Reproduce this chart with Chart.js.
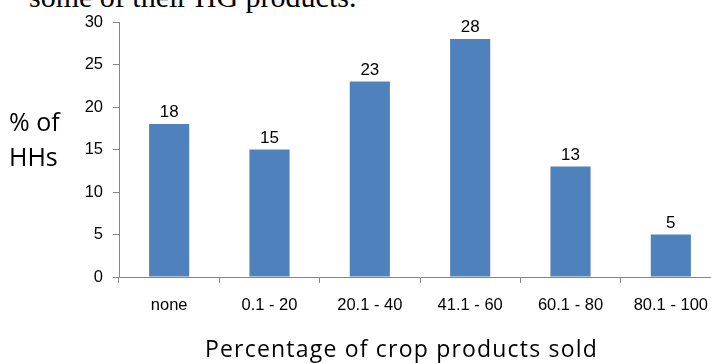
<!DOCTYPE html>
<html>
<head>
<meta charset="utf-8">
<script src="https://cdn.jsdelivr.net/npm/chart.js@4"></script>
<style>
  html, body { margin: 0; padding: 0; background: #fff; overflow: hidden; width: 711px; height: 363px; }
  #wrap { position: relative; width: 711px; height: 363px; overflow: hidden; }
  canvas { position: absolute; left: 0; top: 0; }
  .lead { position: absolute; left: 29px; top: -18px; font: 30px/30px "Liberation Serif", "Times New Roman", serif; color: #000; white-space: nowrap; }
  .ytitle { position: absolute; left: 9px; top: 104px; font: 25px/35px "Open Sans", sans-serif; color: #000; }
  .xtitle { position: absolute; left: 0; width: 803px; top: 333px; text-align: center; font: 23px/30px "Open Sans", sans-serif; letter-spacing: 1.2px; color: #000; white-space: nowrap; }
</style>
</head>
<body>
<div id="wrap">
  <div class="lead">some of their HG products.</div>
  <canvas id="c" width="740" height="363"></canvas>
  <div class="ytitle">% of<br>HHs</div>
  <div class="xtitle">Percentage of crop products sold</div>
</div>
<script>
// Share of households by proportion of crop output sold
const categories = ["none", "0.1 - 20", "20.1 - 40", "41.1 - 60", "60.1 - 80", "80.1 - 100"];
const householdShare = [18, 15, 23, 28, 13, 5];
const yTicks = [0, 5, 10, 15, 20, 25, 30];

const AXIS_GREY = "#868686";
const BAR_BLUE = "#4F81BD";
const TICK_FONT = { family: "'Liberation Sans', Arial, sans-serif", size: 16.5 };

// Writes each bar's value just above it
const valueLabels = {
  id: "valueLabels",
  afterDatasetsDraw(chart) {
    const ctx = chart.ctx;
    const meta = chart.getDatasetMeta(0);
    const data = chart.data.datasets[0].data;
    ctx.save();
    ctx.font = "17px 'Liberation Sans', Arial, sans-serif";
    ctx.fillStyle = "#000";
    ctx.textAlign = "center";
    ctx.textBaseline = "alphabetic";
    meta.data.forEach((bar, i) => {
      ctx.fillText(String(data[i]), bar.x, bar.y - 7);
    });
    ctx.restore();
  }
};

new Chart(document.getElementById("c"), {
  type: "bar",
  data: {
    labels: categories,
    datasets: [{
      data: householdShare,
      backgroundColor: BAR_BLUE,
      borderWidth: 0,
      categoryPercentage: 1.0,
      barPercentage: 0.4
    }]
  },
  options: {
    responsive: false,
    animation: false,
    events: [],
    layout: { padding: { top: 22, right: 19, bottom: 0, left: 0 } },
    plugins: {
      legend: { display: false },
      title: { display: false },
      tooltip: { enabled: false }
    },
    scales: {
      x: {
        grid: { display: true, drawOnChartArea: false, drawTicks: true, tickLength: 6, color: AXIS_GREY, offset: true },
        border: { display: true, color: AXIS_GREY, width: 1 },
        ticks: { color: "#000", font: TICK_FONT, padding: 13, maxRotation: 0, autoSkip: false },
        afterFit(scale) { scale.height = 86; }
      },
      y: {
        min: 0,
        max: 30,
        afterBuildTicks(scale) { scale.ticks = yTicks.map(v => ({ value: v })); },
        grid: { display: true, drawOnChartArea: false, drawTicks: true, tickLength: 6, color: AXIS_GREY },
        border: { display: true, color: AXIS_GREY, width: 1 },
        ticks: { color: "#000", font: TICK_FONT, padding: 10 },
        afterFit(scale) { scale.width = 119; }
      }
    }
  },
  plugins: [valueLabels]
});
</script>
</body>
</html>
